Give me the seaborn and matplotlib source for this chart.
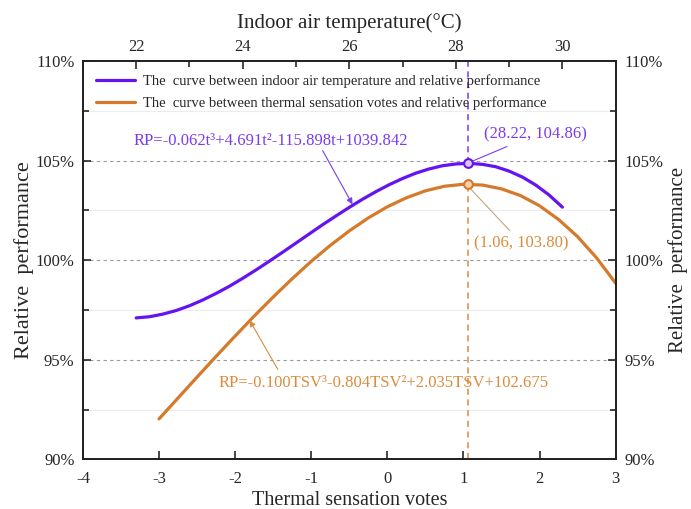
import matplotlib
matplotlib.use("Agg")
import matplotlib.pyplot as plt
from matplotlib.ticker import MultipleLocator, FuncFormatter
import seaborn as sns

# ---- data ----
t_vals = [22.0, 22.25, 22.5, 22.75, 23.0, 23.25, 23.5, 23.75, 24.0, 24.25, 24.5, 24.75,
          25.0, 25.25, 25.5, 25.75, 26.0, 26.25, 26.5, 26.75, 27.0, 27.25, 27.5, 27.75,
          28.0, 28.25, 28.5, 28.75, 29.0, 29.25, 29.5, 29.75, 30.0]
rp_temp = [97.10, 97.16, 97.29, 97.47, 97.71, 98.00, 98.33, 98.69, 99.09, 99.51, 99.95, 100.40,
           100.86, 101.32, 101.78, 102.22, 102.65, 103.06, 103.44, 103.79, 104.10, 104.37, 104.58, 104.74,
           104.83, 104.86, 104.81, 104.69, 104.47, 104.17, 103.77, 103.27, 102.66]

tsv_vals = [-3.0, -2.75, -2.5, -2.25, -2.0, -1.75, -1.5, -1.25, -1.0, -0.75, -0.5, -0.25,
            0.0, 0.25, 0.5, 0.75, 1.0, 1.25, 1.5, 1.75, 2.0, 2.25, 2.5, 2.75, 3.0]
rp_tsv = [92.03, 93.08, 94.13, 95.17, 96.19, 97.19, 98.15, 99.07, 99.94, 100.74, 101.47, 102.12,
          102.68, 103.13, 103.48, 103.71, 103.81, 103.77, 103.58, 103.24, 102.73, 102.04, 101.18, 100.11, 98.84]

peak_t, peak_t_rp = [28.22], [104.86]
peak_tsv, peak_tsv_rp = [1.06], [103.80]

bottom_ticks = [-4, -3, -2, -1, 0, 1, 2, 3]
top_ticks = [22, 24, 26, 28, 30]
y_ticks = [90, 95, 100, 105, 110]

label_temp = "The  curve between indoor air temperature and relative performance"
label_tsv = "The  curve between thermal sensation votes and relative performance"
eq_temp = "RP=-0.062t³+4.691t²-115.898t+1039.842"
eq_tsv = "RP=-0.100TSV³-0.804TSV²+2.035TSV+102.675"
pt_temp = "(28.22, 104.86)"
pt_tsv = "(1.06, 103.80)"

PURPLE = "#6414F0"
PURPLE_TXT = "#7A3CF0"
ORANGE = "#D47A2A"
ORANGE_TXT = "#DA8C3E"

sns.set_style("ticks")
plt.rcParams["font.family"] = ["Liberation Serif", "DejaVu Serif"]
plt.rcParams["axes.linewidth"] = 1.3
plt.rcParams["axes.unicode_minus"] = False

fig = plt.figure(figsize=(6.91, 5.09), dpi=100)
ax = fig.add_axes([0.120, 0.0976, 0.771, 0.7826])
ax2 = ax.twiny()

ax.set_xlim(-4, 3)
ax.set_ylim(90, 110)
ax2.set_xlim(21, 31)

# grid lines
for v in y_ticks[1:-1]:
    ax.axhline(v, color="#9a9a9a", lw=0.8, ls=(0, (3, 3)), zorder=0)
for v in [92.5, 97.5, 102.5, 107.5]:
    ax.axhline(v, color="#ececec", lw=0.8, zorder=0)

# curves
sns.lineplot(x=tsv_vals, y=rp_tsv, ax=ax, color=ORANGE, lw=2.3, sort=False, estimator=None,
             label=label_tsv, legend=False)
sns.lineplot(x=t_vals, y=rp_temp, ax=ax2, color=PURPLE, lw=2.3, sort=False, estimator=None,
             label=label_temp, legend=False)

# vertical dashed lines
ax2.vlines(peak_t, peak_t_rp, 110, color=PURPLE_TXT, lw=1.1, ls=(0, (4, 3)), zorder=1)
ax.vlines(peak_tsv, 90, peak_tsv_rp, color=ORANGE_TXT, lw=1.1, ls=(0, (4, 3)), zorder=1)

# peak markers
sns.scatterplot(x=peak_t, y=peak_t_rp, ax=ax2, s=40, color="#D8C8FF", edgecolor=PURPLE,
                linewidth=1.5, zorder=5, legend=False)
sns.scatterplot(x=peak_tsv, y=peak_tsv_rp, ax=ax, s=40, color="#F4D2B0", edgecolor=ORANGE,
                linewidth=1.5, zorder=5, legend=False)

# annotations
ax2.text(24.53, 106.0, eq_temp, color=PURPLE_TXT, fontsize=12, ha="center", va="center")
ax2.annotate("", xy=(26.06, 102.8), xytext=(25.5, 105.5),
             arrowprops=dict(arrowstyle="-|>", color=PURPLE_TXT, lw=0.8, mutation_scale=9,
                             shrinkA=0, shrinkB=0))
ax2.annotate(pt_temp, xy=(28.32, 104.98), xytext=(28.52, 106.3), color=PURPLE_TXT, fontsize=12,
             ha="left", va="center",
             arrowprops=dict(arrowstyle="-", color=PURPLE_TXT, lw=0.8, shrinkA=1, shrinkB=0))

ax.text(-0.05, 93.82, eq_tsv, color=ORANGE_TXT, fontsize=12, ha="center", va="center")
ax.annotate("", xy=(-1.81, 96.98), xytext=(-1.44, 94.52),
            arrowprops=dict(arrowstyle="-|>", color=ORANGE_TXT, lw=0.8, mutation_scale=9,
                            shrinkA=0, shrinkB=0))
ax.annotate(pt_tsv, xy=(1.1, 103.55), xytext=(1.14, 100.86), color=ORANGE_TXT, fontsize=12,
            ha="left", va="center",
            arrowprops=dict(arrowstyle="-", color="#C9A27A", lw=0.8, shrinkA=1, shrinkB=0))

# ticks
ax.set_xticks(bottom_ticks)
ax.set_yticks(y_ticks)
ax.yaxis.set_minor_locator(MultipleLocator(2.5))
ax.yaxis.set_major_formatter(FuncFormatter(lambda v, p: f"{v:.0f}%"))
ax.tick_params(axis="both", which="both", direction="in", labelsize=12, width=1.2,
               top=False, right=True, labelright=True, left=True)
ax.tick_params(axis="both", which="major", length=6)
ax.tick_params(axis="both", which="minor", length=4)
ax.tick_params(axis="x", which="both", pad=8.5)
ax.tick_params(axis="y", which="both", pad=6)

ax2.set_xticks(top_ticks)
ax2.xaxis.set_minor_locator(MultipleLocator(1))
ax2.tick_params(axis="x", which="both", direction="in", labelsize=12, width=1.2, pad=4)
ax2.tick_params(axis="x", which="major", length=6)
ax2.tick_params(axis="x", which="minor", length=4)

ax.set_xlabel("Thermal sensation votes", fontsize=14.5, labelpad=3)
ax2.set_xlabel("Indoor air temperature(°C)", fontsize=15, labelpad=8)
ax.set_ylabel("Relative  performance", fontsize=16, labelpad=1)
fig.text(0.981, 0.0976 + 0.7826 / 2, "Relative  performance", fontsize=15,
         rotation=90, ha="center", va="center")

for a in (ax, ax2):
    for s in a.spines.values():
        s.set_linewidth(1.3)
        s.set_color("#222222")

# legend
h_temp = ax2.get_lines()[0]
h_tsv = [l for l in ax.get_lines() if l.get_color() == ORANGE][0]
ax2.legend([h_temp, h_tsv], [label_temp, label_tsv], loc="upper left",
           bbox_to_anchor=(0.0, 1.0), frameon=False, fontsize=10.5, handlelength=2.7,
           handletextpad=0.5, labelspacing=0.55, borderaxespad=0.5)

fig.savefig("out.png", dpi=100)
